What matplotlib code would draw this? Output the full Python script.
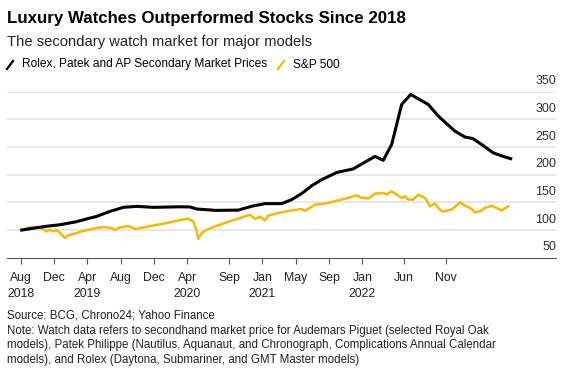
# Relojes de lujo vs S&P 500

import numpy as np
import matplotlib
matplotlib.use('Agg')
import matplotlib.pyplot as plt
from matplotlib.lines import Line2D

plt.rcParams['font.family'] = ['Liberation Sans', 'DejaVu Sans']

# INGRESO datos
# eje x: meses desde agosto 2018
watch_mes = [0.12, 2.92, 4.72, 6.52, 9.12, 10.72, 12.31, 13.92, 15.88, 19.12,
             20.32, 21.12, 23.44, 26.11, 27.72, 29.32, 31.32, 32.52, 33.72, 34.92,
             36.12, 37.92, 39.91, 41.11, 42.52, 43.51, 44.52, 45.72, 46.80, 48.91,
             50.11, 52.11, 53.32, 54.24, 55.32, 56.71, 57.91, 58.80]
watch_vals = [100, 106.5, 109.6, 114.5, 124.7, 133.7, 141, 142.8, 141, 142,
              141.7, 138, 135.5, 136, 143, 147.7, 147.7, 155, 166, 180,
              191, 204, 210.5, 221, 233, 226, 254.6, 327, 345, 327,
              306, 278.7, 268, 265.4, 254.6, 239.5, 233, 229]

spx_mes = [0.12, 1.12, 2.11, 2.71, 3.12, 3.52, 3.91, 4.32, 4.72, 5.32,
           5.71, 6.31, 7.32, 8.52, 9.91, 10.92, 11.23, 11.92, 12.91, 13.80,
           15.31, 16.92, 18.12, 19.32, 20.11, 20.71, 21.12, 21.31, 21.72, 22.32,
           23.32, 24.52, 25.72, 26.92, 27.52, 28.12, 28.72, 29.32, 29.71, 30.91,
           32.52, 33.72, 34.12, 35.32, 36.52, 38.11, 39.31, 40.32, 40.92, 41.32,
           41.71, 42.52, 43.51, 43.92, 44.52, 45.12, 45.72, 46.12, 46.51, 47.11,
           47.71, 48.52, 49.12, 49.72, 50.11, 50.52, 51.12, 51.72, 52.72, 53.32,
           53.92, 54.52, 55.12, 55.72, 56.52, 57.12, 57.72, 58.51]
spx_vals = [100, 104.7, 105.4, 101.8, 97.5, 100.5, 97.5, 100, 94.6, 85.5,
            90.2, 92.8, 97.5, 101.8, 105.4, 103.6, 100, 104.7, 107.2, 101.8,
            106.5, 110.9, 114.5, 118.7, 120.5, 115.6, 97.5, 84, 94.6, 100.5,
            106.5, 112.7, 118.7, 124.7, 127.7, 120, 124, 117.4, 126, 130.8,
            135.5, 138, 134.8, 145.8, 147.7, 153.6, 158, 162.7, 158, 158,
            157, 165.8, 167, 164.3, 170, 164, 158, 161, 155, 155,
            164, 158, 143, 147.7, 140, 133.7, 134.8, 136.8, 150, 144,
            140, 132, 133.7, 140, 144, 140, 135.5, 142.8]

xtick_mes = [0, 4, 8, 12, 16, 20, 25, 29, 33, 37, 41, 46, 51]
xtick_labels = ['Aug\n2018', 'Dec', 'Apr\n2019', 'Aug', 'Dec', 'Apr\n2020', 'Sep',
                'Jan\n2021', 'May', 'Sep', 'Jan\n2022', 'Jun', 'Nov']
yticks = [50, 100, 150, 200, 250, 300, 350]

yellow = '#f7b800'
W, H = 567, 377

# Grafica
fig = plt.figure(figsize=(W / 100, H / 100), dpi=100)
ax = fig.add_axes([7 / W, 1 - 257.7 / H, (556 - 7) / W, (257.7 - 91.7) / H])

ax.plot(spx_mes, spx_vals, color=yellow, lw=1.8, zorder=3)
ax.plot(watch_mes, watch_vals, color='black', lw=2.2, zorder=4)

ax.set_xlim(-1.644, 64.24)
ax.set_ylim(50, 350)

for v in yticks:
    if v > 50:
        ax.axhline(v, color='#e3e3e3', lw=1.2, zorder=1)
    ax.text(1.0, v + 8, str(v), transform=ax.get_yaxis_transform(),
            ha='right', va='bottom', fontsize=9, color='#333333')

for s in ['top', 'right', 'left']:
    ax.spines[s].set_visible(False)
ax.spines['bottom'].set_color('#555555')
ax.spines['bottom'].set_linewidth(0.8)
ax.set_yticks([])
ax.set_xticks(xtick_mes)
ax.set_xticklabels(xtick_labels, fontsize=8.8, color='#222222', linespacing=1.45)
ax.tick_params(axis='x', length=4, width=0.8, color='#555555', pad=6.2)

# textos
fig.text(7 / W, 1 - 19 / H, 'Luxury Watches Outperformed Stocks Since 2018',
         fontsize=12.2, fontweight='bold', va='center', ha='left', color='black')
fig.text(7 / W, 1 - 42 / H, 'The secondary watch market for major models',
         fontsize=10.6, va='center', ha='left', color='#222222')

fig.add_artist(Line2D([7 / W, 13 / W], [1 - 69 / H, 1 - 61 / H], color='black', lw=1.6))
fig.text(22 / W, 1 - 64.5 / H, 'Rolex, Patek and AP Secondary Market Prices',
         fontsize=8.55, va='center', ha='left', color='black')
fig.add_artist(Line2D([278 / W, 284 / W], [1 - 69 / H, 1 - 61 / H], color=yellow, lw=1.6))
fig.text(293 / W, 1 - 64.5 / H, 'S&P 500', fontsize=8.55, va='center', ha='left', color='black')

fig.text(7 / W, 1 - 316 / H, 'Source: BCG, Chrono24; Yahoo Finance',
         fontsize=8.3, va='center', ha='left', color='#222222')
nota = ('Note: Watch data refers to secondhand market price for Audemars Piguet (selected Royal Oak\n'
        'models), Patek Philippe (Nautilus, Aquanaut, and Chronograph, Complications Annual Calendar\n'
        'models), and Rolex (Daytona, Submariner, and GMT Master models)')
fig.text(7 / W, 1 - 325 / H, nota, fontsize=8.3, va='top', ha='left', color='#222222',
         linespacing=1.25)

fig.savefig('out.png', dpi=100)
